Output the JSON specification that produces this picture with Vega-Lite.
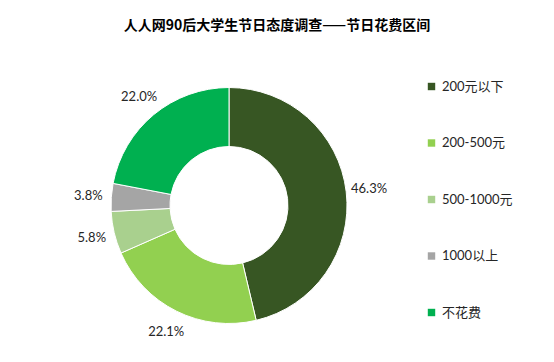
{
  "$schema": "https://vega.github.io/schema/vega-lite/v6.json",
  "autosize": "none",
  "width": 450,
  "height": 303,
  "padding": {"left": 4, "top": 54, "right": 100, "bottom": 5},
  "background": "white",
  "config": {"view": {"stroke": null}},
  "title": {
    "text": "人人网90后大学生节日态度调查——节日花费区间",
    "font": "Noto Sans CJK SC",
    "fontSize": 14,
    "fontWeight": "bold",
    "color": "#000000",
    "anchor": "middle",
    "dx": 48,
    "offset": 21
  },
  "data": {
    "values": [
      {"idx": 1, "cat": "200元以下", "pct": 0.463},
      {"idx": 2, "cat": "200-500元", "pct": 0.221},
      {"idx": 3, "cat": "500-1000元", "pct": 0.058},
      {"idx": 4, "cat": "1000以上", "pct": 0.038},
      {"idx": 5, "cat": "不花费", "pct": 0.220}
    ]
  },
  "encoding": {
    "theta": {"field": "pct", "type": "quantitative", "stack": true},
    "order": {"field": "idx", "type": "quantitative"}
  },
  "layer": [
    {
      "mark": {"type": "arc", "innerRadius": 59, "outerRadius": 118, "stroke": "white", "strokeWidth": 1},
      "encoding": {
        "color": {
          "field": "cat",
          "type": "nominal",
          "sort": ["200元以下", "200-500元", "500-1000元", "1000以上", "不花费"],
          "scale": {
            "domain": ["200元以下", "200-500元", "500-1000元", "1000以上", "不花费"],
            "range": ["#375623", "#92D050", "#A9D08E", "#A5A5A5", "#00B050"]
          },
          "legend": {
            "title": null,
            "orient": "none",
            "legendX": 421,
            "legendY": 26,
            "symbolType": "square",
            "symbolSize": 55,
            "symbolStrokeWidth": 0,
            "labelFont": "Lato, Noto Sans CJK SC",
            "labelFontSize": 13,
            "labelColor": "#262626",
            "labelOffset": 4,
            "rowPadding": 42.5
          }
        }
      }
    },
    {
      "mark": {"type": "text", "radius": 141, "font": "Lato, Noto Sans CJK SC", "fontSize": 13, "color": "#262626"},
      "encoding": {
        "text": {"field": "pct", "type": "quantitative", "format": ".1%"}
      }
    }
  ]
}
